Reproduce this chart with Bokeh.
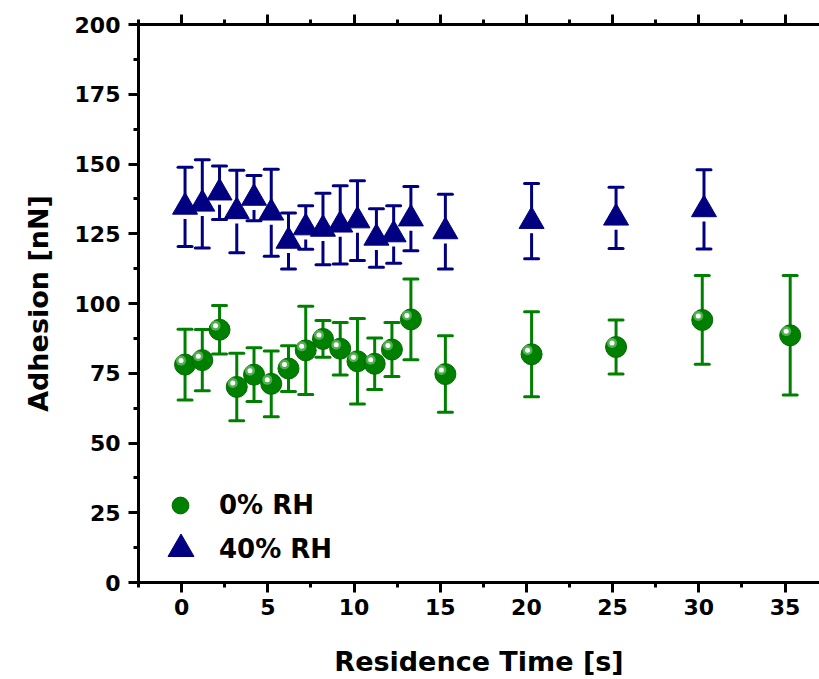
from bokeh.plotting import figure
from bokeh.models import (ColumnDataSource, Whisker, TeeHead, Range1d, LinearAxis,
                          SingleIntervalTicker, Legend, LegendItem, CustomJSTickFormatter)
from bokeh.embed import file_html
from bokeh.resources import INLINE

# ---------------- data ----------------
time_0rh = [0.2, 1.2, 2.2, 3.2, 4.2, 5.2, 6.2, 7.2, 8.2, 9.2, 10.2, 11.2, 12.2, 13.3, 15.3,
            20.3, 25.2, 30.2, 35.3]
adh_0rh = [78.1, 79.7, 90.6, 70.1, 74.5, 71.2, 76.7, 83.2, 87.3, 83.8, 79.3, 78.4, 83.5, 94.3,
           74.7, 81.8, 84.4, 94.1, 88.6]
err_0rh = [12.7, 11.0, 8.7, 12.1, 9.6, 11.8, 8.2, 15.8, 6.6, 9.4, 15.3, 9.2, 9.7, 14.5,
           13.7, 15.2, 9.7, 15.9, 21.4]

time_40rh = [0.2, 1.2, 2.2, 3.2, 4.2, 5.2, 6.2, 7.2, 8.2, 9.2, 10.2, 11.3, 12.3, 13.3, 15.3,
             20.3, 25.2, 30.3]
adh_40rh = [134.6, 135.7, 139.7, 133.0, 137.8, 132.5, 122.4, 127.2, 126.7, 128.2, 129.7,
            123.5, 124.7, 130.4, 125.8, 129.5, 130.7, 133.7]
err_40rh = [14.2, 15.8, 9.6, 14.8, 8.1, 15.6, 10.0, 7.8, 12.8, 14.0, 14.3, 10.5, 10.3, 11.5,
            13.4, 13.5, 11.0, 14.2]

labels = ["0% RH", "40% RH"]
x_title = "Residence Time [s]"
y_title = "Adhesion [nN]"

# ---------------- layout / style ----------------
W, H = 819, 679
LEFT, RIGHT, TOP, BOTTOM = 138, 0, 24, 97
X0, X1 = -2.5, 37.0
Y0, Y1 = 0, 200
px_x = (W - LEFT - RIGHT) / (X1 - X0)
px_y = (H - TOP - BOTTOM) / (Y1 - Y0)

GREEN = "#008000"
BLUE = "#000080"
FONT = "DejaVu Sans"

p = figure(width=W, height=H, x_range=Range1d(X0, X1), y_range=Range1d(Y0, Y1),
           output_backend="svg", toolbar_location=None,
           min_border_left=LEFT, min_border_right=RIGHT, min_border_top=TOP,
           min_border_bottom=BOTTOM, x_axis_label=x_title, y_axis_label=y_title)
p.outline_line_color = None
p.xgrid.visible = False
p.ygrid.visible = False
p.background_fill_color = "white"
p.border_fill_color = "white"

xt = SingleIntervalTicker(interval=5, num_minor_ticks=2)
yt = SingleIntervalTicker(interval=25, num_minor_ticks=2)
p.xaxis.ticker = xt
p.yaxis.ticker = yt


def style_axis(ax):
    ax.axis_line_width = 3
    ax.axis_line_color = "black"
    ax.major_tick_line_width = 3
    ax.minor_tick_line_width = 3
    ax.major_tick_line_color = "black"
    ax.minor_tick_line_color = "black"
    ax.major_tick_in = 0
    ax.minor_tick_in = 0
    ax.major_tick_out = 10
    ax.minor_tick_out = 5
    ax.major_label_text_font = FONT
    ax.major_label_text_font_style = "bold"
    ax.major_label_text_font_size = "22px"
    ax.major_label_text_color = "black"
    ax.axis_label_text_font = FONT
    ax.axis_label_text_font_style = "bold"
    ax.axis_label_text_font_size = "27px"
    ax.axis_label_text_color = "black"


for ax in p.xaxis + p.yaxis:
    style_axis(ax)
p.xaxis.major_label_standoff = 6
p.yaxis.major_label_standoff = 8
p.xaxis.axis_label_standoff = 28
p.yaxis.axis_label_standoff = 18

top = LinearAxis(ticker=SingleIntervalTicker(interval=5, num_minor_ticks=2),
                 formatter=CustomJSTickFormatter(code="return ''"))
style_axis(top)
top.major_label_text_font_size = "1px"
top.major_label_standoff = 0
p.add_layout(top, "above")

# ---------------- error bars ----------------
src0 = ColumnDataSource(dict(
    x=time_0rh, y=adh_0rh,
    upper=[a + e for a, e in zip(adh_0rh, err_0rh)],
    lower=[a - e for a, e in zip(adh_0rh, err_0rh)],
    hx=[x - 4 / px_x for x in time_0rh],
    hy=[a + 4 / px_y for a in adh_0rh],
))
gap = 12 / px_y
src40 = ColumnDataSource(dict(
    x=time_40rh, y=adh_40rh,
    upper=[a + e for a, e in zip(adh_40rh, err_40rh)],
    lower=[a - e for a, e in zip(adh_40rh, err_40rh)],
    lstart=[a - gap for a in adh_40rh],
))


def tee(color):
    return TeeHead(size=14, line_color=color, line_width=3, line_cap="round")


p.add_layout(Whisker(source=src0, base="x", upper="upper", lower="lower", dimension="height",
                     line_color=GREEN, line_width=3, level="underlay",
                     upper_head=tee(GREEN), lower_head=tee(GREEN)))
p.add_layout(Whisker(source=src40, base="x", upper="upper", lower="y", dimension="height",
                     line_color=BLUE, line_width=3, level="underlay",
                     upper_head=tee(BLUE), lower_head=None))
p.add_layout(Whisker(source=src40, base="x", upper="lstart", lower="lower", dimension="height",
                     line_color=BLUE, line_width=3, level="underlay",
                     upper_head=None, lower_head=tee(BLUE)))

# ---------------- markers ----------------
r0 = p.scatter("x", "y", source=src0, marker="circle", size=21,
               fill_color=GREEN, line_color="#006a00", line_width=1)
p.scatter("hx", "hy", source=src0, marker="circle", size=10,
          fill_color="#6fbf6f", fill_alpha=0.75, line_color=None)
p.scatter("hx", "hy", source=src0, marker="circle", size=5,
          fill_color="white", line_color=None)
r40 = p.scatter("x", "y", source=src40, marker="triangle", size=25,
                fill_color=BLUE, line_color=BLUE, line_width=1)

# ---------------- legend ----------------


def make_legend(label, renderer, box, loc, standoff):
    lg = Legend(items=[LegendItem(label=label, renderers=[renderer])], location=loc,
                glyph_width=box, glyph_height=box, label_standoff=standoff,
                padding=0, margin=0, spacing=0, border_line_color=None,
                background_fill_alpha=0, label_text_font=FONT,
                label_text_font_style="bold", label_text_font_size="26px",
                label_text_color="black")
    p.add_layout(lg)


make_legend(labels[0], r0, 42, (21, 56), 18)
make_legend(labels[1], r40, 65, (10, 1), 6)

open("out.html", "w").write(file_html(p, INLINE))
